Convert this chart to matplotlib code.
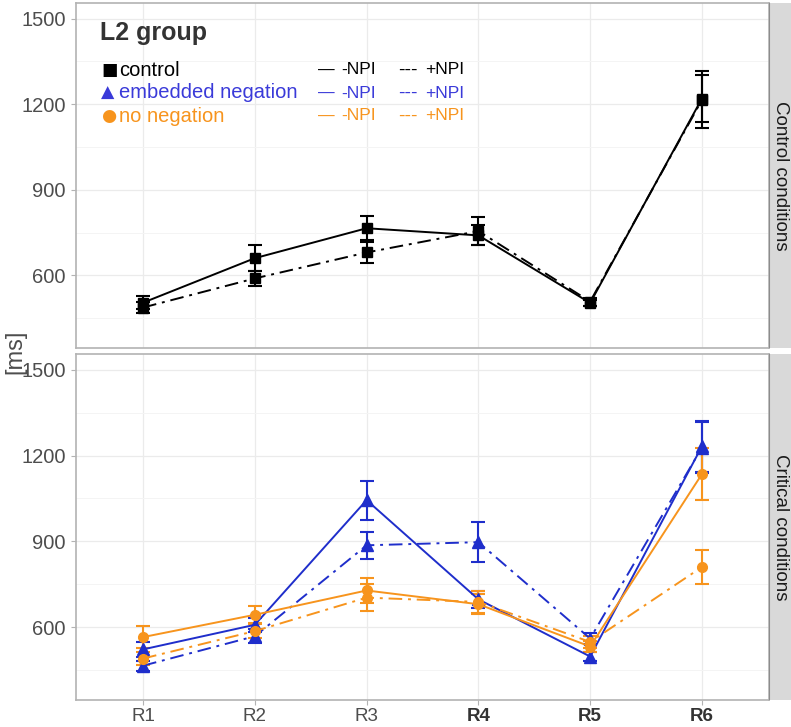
import numpy as np
import matplotlib
matplotlib.use('Agg')
import matplotlib.pyplot as plt

plt.rcParams['font.family'] = ['Liberation Sans', 'DejaVu Sans']

regions = ['R1', 'R2', 'R3', 'R4', 'R5', 'R6']
bold_regions = ['R4', 'R5', 'R6']

# control conditions
ctrl_neg = [504, 660, 765, 740, 503, 1220]
ctrl_neg_se = [22, 45, 42, 35, 12, 84]
ctrl_pos = [487, 589, 680, 755, 508, 1215]
ctrl_pos_se = [20, 26, 38, 48, 14, 100]

# critical conditions
emb_neg = [522, 608, 1044, 697, 497, 1232]
emb_neg_se = [25, 25, 68, 30, 17, 88]
emb_pos = [465, 568, 886, 897, 560, 1228]
emb_pos_se = [18, 25, 47, 69, 20, 90]
non_neg = [565, 643, 728, 680, 532, 1135]
non_neg_se = [38, 30, 44, 35, 18, 90]
non_pos = [490, 586, 703, 688, 548, 810]
non_pos_se = [22, 25, 48, 38, 20, 60]

y_ticks = [600, 900, 1200, 1500]
y_minor = [450, 750, 1050, 1350]

BLACK = '#000000'
BLUE = '#1f2ecb'
ORANGE = '#f7941d'
DASHDOT = (0, (7, 3, 1.5, 3))

W, H = 791, 727
fig = plt.figure(figsize=(W / 100, H / 100), dpi=100)

left, right = 76, 769
panels = [(3, 348, 'Control conditions'), (354, 700, 'Critical conditions')]
axes = []
for top, bottom, strip in panels:
    ax = fig.add_axes([left / W, 1 - bottom / H, (right - left) / W, (bottom - top) / H])
    sx = fig.add_axes([right / W, 1 - bottom / H, (W - right) / W, (bottom - top) / H])
    sx.set_facecolor('#d9d9d9')
    sx.set_xticks([])
    sx.set_yticks([])
    for s in sx.spines.values():
        s.set_visible(False)
    sx.axvline(0, color='#8c8c8c', lw=1.5)
    sx.text(0.5, 0.5, strip, rotation=-90, ha='center', va='center',
            fontsize=13.5, color='#1a1a1a', transform=sx.transAxes)
    axes.append(ax)

x = np.arange(1, len(regions) + 1)


def draw(ax, vals, se, color, marker, ms, ls):
    ax.errorbar(x, vals, yerr=se, color=color, lw=1.4, ls=ls, marker=marker,
                ms=ms, capsize=5, capthick=1.5, elinewidth=1.5, zorder=3)


for ax in axes:
    ax.set_xlim(0.4, 6.6)
    ax.set_ylim(345, 1555)
    ax.set_yticks(y_ticks)
    ax.set_yticks(y_minor, minor=True)
    ax.set_xticks(x)
    ax.grid(True, which='major', color='#ebebeb', lw=0.9)
    ax.grid(True, which='minor', axis='y', color='#f4f4f4', lw=0.7)
    ax.set_axisbelow(True)
    for s in ax.spines.values():
        s.set_color('#b3b3b3')
        s.set_linewidth(1.2)
    ax.tick_params(which='major', length=3.5, color='#b3b3b3', labelsize=14.5,
                   labelcolor='#4d4d4d', pad=4)
    ax.tick_params(which='minor', length=0)

ax1, ax2 = axes
ax1.tick_params(axis='x', labelbottom=False, length=0)
ax2.tick_params(axis='x', labelsize=13.5, pad=2)

draw(ax1, ctrl_neg, ctrl_neg_se, BLACK, 's', 7, '-')
draw(ax1, ctrl_pos, ctrl_pos_se, BLACK, 's', 7, DASHDOT)

draw(ax2, emb_neg, emb_neg_se, BLUE, '^', 8.5, '-')
draw(ax2, emb_pos, emb_pos_se, BLUE, '^', 8.5, DASHDOT)
draw(ax2, non_neg, non_neg_se, ORANGE, 'o', 7, '-')
draw(ax2, non_pos, non_pos_se, ORANGE, 'o', 7, DASHDOT)

ax2.set_xticklabels(regions)
for lab in ax2.get_xticklabels():
    if lab.get_text() in bold_regions:
        lab.set_fontweight('bold')
        lab.set_color('#333333')

fig.text(15 / W, 1 - 352 / H, '[ms]', rotation=90, ha='center', va='center',
         fontsize=17, color='#4d4d4d')

# legend written as text inside the top panel
ax1.text(100 / W, 1 - 33 / H, 'L2 group', transform=fig.transFigure,
         fontsize=18, fontweight='bold', color='#333333', va='center')
rows = [('■', 'control', BLACK, 70), ('▲', 'embedded negation', '#3a3ad9', 93),
        ('●', 'no negation', ORANGE, 116)]
for sym, name, col, yy in rows:
    fy = 1 - yy / H
    fig.text(101 / W, fy, sym, fontsize=12.5, color=col, va='center', family='DejaVu Sans')
    fig.text(119 / W, fy, name, fontsize=14.5, color=col, va='center')
    fig.text(318 / W, fy, '—', fontsize=12, color=col, va='center')
    fig.text(341 / W, fy, '-NPI', fontsize=12.5, color=col, va='center')
    fig.text(398 / W, fy, '---', fontsize=14, color=col, va='center')
    fig.text(425 / W, fy, '+NPI', fontsize=12.5, color=col, va='center')

fig.savefig('out.png', dpi=100)
